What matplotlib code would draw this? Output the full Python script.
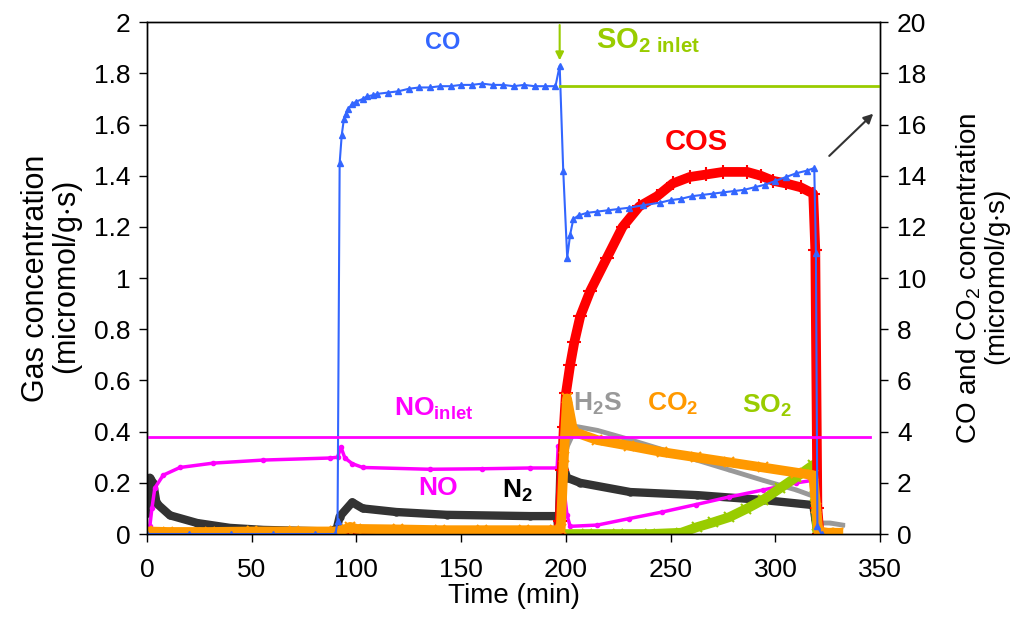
import numpy as np
import matplotlib as mpl
import matplotlib.pyplot as plt

mpl.rcParams['font.family'] = ['Liberation Sans', 'DejaVu Sans']
mpl.rcParams['font.size'] = 19.0
mpl.rcParams['mathtext.default'] = 'regular'

# --- data (time in min) ---
# CO, right axis (micromol/g.s)
co_t = [0, 20, 40, 60, 80, 90, 91, 92, 93, 94, 95, 96, 98, 100, 103, 105, 108, 110, 115,
        120, 125, 130, 135, 140, 145, 150, 155, 160, 165, 170, 175, 180, 185, 190, 195,
        197, 198.7, 200.6, 202, 203.5, 206, 210, 215, 220, 225, 230, 237, 245, 250, 255,
        260, 265, 270, 275, 280, 285, 290, 295, 300, 305, 310, 315, 318.5, 319.3, 320, 322]
co = [0, 0, 0, 0, 0, 0, 0.5, 14.5, 15.6, 16.2, 16.4, 16.6, 16.8, 16.9, 17.0, 17.1, 17.15,
      17.2, 17.25, 17.3, 17.4, 17.45, 17.45, 17.5, 17.5, 17.55, 17.55, 17.6, 17.55, 17.55,
      17.5, 17.55, 17.5, 17.5, 17.5, 18.3, 14.2, 10.8, 11.7, 12.3, 12.45, 12.55, 12.6,
      12.65, 12.7, 12.75, 12.85, 12.95, 13.05, 13.1, 13.2, 13.25, 13.3, 13.35, 13.4, 13.45,
      13.55, 13.65, 13.8, 13.95, 14.1, 14.2, 14.3, 11.0, 0.3, 0]

# CO2, right axis
co2_t = [0, 10, 30, 50, 70, 90, 95, 97, 100, 120, 140, 160, 180, 195, 197.5, 199,
         200.5, 203.5, 215, 230, 246, 262, 278, 294, 310, 318, 319.5, 320.5, 325, 330]
co2 = [0.1, 0.08, 0.08, 0.1, 0.1, 0.1, 0.2, 0.28, 0.2, 0.18, 0.15, 0.15, 0.15, 0.15,
       0.2, 3.0, 5.3, 4.0, 3.67, 3.45, 3.2, 3.0, 2.8, 2.6, 2.4, 2.3, 1.0, 0.1, 0.05, 0.05]

# COS, left axis
cos_t = [0, 50, 100, 150, 196, 197, 198, 199, 200, 202, 204, 206.8, 211.6, 219.6, 227,
         235, 243.5, 251, 259, 267, 275, 286.5, 293, 299, 305, 312, 318, 319, 320, 321]
cos = [0, 0, 0, 0, 0, 0.05, 0.25, 0.42, 0.55, 0.66, 0.75, 0.85, 0.95, 1.08, 1.2, 1.28,
       1.32, 1.37, 1.395, 1.405, 1.415, 1.415, 1.4, 1.38, 1.37, 1.355, 1.33, 1.11, 0.1, 0]

# NO, left axis
no_t = [0, 1.4, 2.4, 3.8, 7.8, 15.8, 31.6, 55.6, 87.4, 91, 92.6, 94.5, 98, 103, 135,
        160, 183, 195.8, 196.3, 198, 200.5, 202, 215, 230, 246, 262, 278, 294, 310,
        318, 319.5, 321]
no = [0, 0.03, 0.1, 0.18, 0.23, 0.26, 0.277, 0.289, 0.297, 0.3, 0.34, 0.297, 0.275,
      0.26, 0.253, 0.255, 0.258, 0.258, 0.344, 0.25, 0.074, 0.03, 0.035, 0.06, 0.086,
      0.115, 0.145, 0.172, 0.2, 0.21, 0.05, 0]
no_inlet = 0.378
no_inlet_t = [1, 345]

# N2, left axis
n2_t = [0, 1.4, 3, 4.6, 11, 24, 39.6, 55.6, 87, 90.6, 92, 98, 103, 119, 143, 183,
        195.8, 196.5, 197.5, 200.5, 206.8, 230.7, 262.6, 294, 318, 319, 320]
n2 = [0.082, 0.22, 0.2, 0.12, 0.073, 0.043, 0.024, 0.016, 0.01, 0.02, 0.068, 0.124,
      0.1, 0.086, 0.075, 0.07, 0.07, 0.0, 0.3, 0.22, 0.2, 0.164, 0.152, 0.133, 0.113,
      0.06, 0.0]

# H2S, left axis
h2s_t = [197, 198.7, 200.5, 205, 215, 230, 246, 262, 278, 294, 310, 319, 320, 326, 332]
h2s = [0.0, 0.25, 0.34, 0.42, 0.405, 0.37, 0.33, 0.29, 0.25, 0.21, 0.172, 0.145,
       0.043, 0.043, 0.035]

# SO2, left axis
so2_t = [197, 210, 225, 240, 255, 262.6, 270, 278, 286, 294, 302, 310, 318, 319, 320, 322]
so2 = [0, 0, 0, 0, 0.005, 0.027, 0.045, 0.066, 0.098, 0.133, 0.178, 0.223, 0.27,
       0.15, 0.0, 0]
so2_inlet = 17.5
so2_inlet_t = [197, 350]

blue = '#3366ff'
orange = '#ff9900'
green = '#99cc00'
magenta = '#ff00ff'
dark = '#333333'
gray = '#999999'

fig = plt.figure(figsize=(10.2, 6.17), dpi=100)
ax1 = fig.add_axes([0.144, 0.1345, 0.719, 0.8295])
ax2 = ax1.twinx()

# left axis series
ax1.plot(n2_t, n2, '-', color=dark, lw=6, marker='o', ms=5)
ax1.plot(h2s_t, h2s, '-', color=gray, lw=3.5, marker='s', ms=2)
ax1.plot(no_t, no, '-', color=magenta, lw=2.5, marker='o', ms=3)
ax1.plot(so2_t, so2, '-', color=green, lw=7, marker='x', ms=7, mew=1.5)
ax1.plot(cos_t, cos, '-', color='#ff0000', lw=7, marker='+', ms=10, mew=1.5)

# right axis series
ax2.plot(co2_t, co2, '-', color=orange, lw=7, marker='x', ms=7, mew=1.5)
ax2.plot(co_t, co, '-', color=blue, lw=1.5, marker='^', ms=4)
ax2.plot(so2_inlet_t, [so2_inlet] * 2, color=green, lw=2)
ax2.plot(no_inlet_t, [no_inlet * 10] * 2, color=magenta, lw=2)

ax1.set_xlim(0, 350)
ax1.set_ylim(0, 2)
ax2.set_ylim(0, 20)
ax1.set_xticks(np.arange(0, 351, 50))
ax1.set_yticks(np.arange(0, 2.01, 0.2))
ax1.set_yticklabels(['0', '0.2', '0.4', '0.6', '0.8', '1', '1.2', '1.4', '1.6', '1.8', '2'])
ax2.set_yticks(np.arange(0, 21, 2))
for a in (ax1, ax2):
    a.tick_params(direction='out', length=6, width=1, pad=6)
    for s in a.spines.values():
        s.set_linewidth(1)
ax1.tick_params(axis='x', pad=11)

ax1.set_xlabel('Time (min)', fontsize=20, labelpad=1)
ax1.set_ylabel('Gas concentration\n(micromol/g$\\cdot$s)', fontsize=22, linespacing=1.0,
               labelpad=6)
ax2.set_ylabel('CO and CO$_2$ concentration\n(micromol/g$\\cdot$s)', fontsize=20,
               linespacing=1.0, rotation=90, labelpad=20)

# arrows
ax2.annotate('', xy=(197, 18.4), xytext=(197, 20),
             arrowprops=dict(arrowstyle='-|>', color=green, lw=1.5, mutation_scale=12))
ax2.annotate('', xy=(347.6, 16.5), xytext=(324.7, 14.7),
             arrowprops=dict(arrowstyle='-|>', color=dark, lw=1.5, mutation_scale=14))

# series labels
kw = dict(fontweight='bold', ha='center', va='center')
ax1.text(141, 1.92, 'CO', color=blue, fontsize=17, **kw)
ax1.text(239, 1.93, 'SO$_{2\\ inlet}$', color=green, fontsize=21, **kw)
ax1.text(262, 1.53, 'COS', color='#ff0000', fontsize=21, **kw)
ax1.text(137, 0.49, 'NO$_{inlet}$', color=magenta, fontsize=19, **kw)
ax1.text(139, 0.18, 'NO', color=magenta, fontsize=19, **kw)
ax1.text(177, 0.17, 'N$_2$', color='black', fontsize=19, **kw)
ax1.text(215, 0.51, 'H$_2$S', color=gray, fontsize=19, **kw)
ax1.text(251, 0.51, 'CO$_2$', color=orange, fontsize=19, **kw)
ax1.text(296, 0.5, 'SO$_2$', color=green, fontsize=19, **kw)

plt.savefig('out.png', dpi=100)
